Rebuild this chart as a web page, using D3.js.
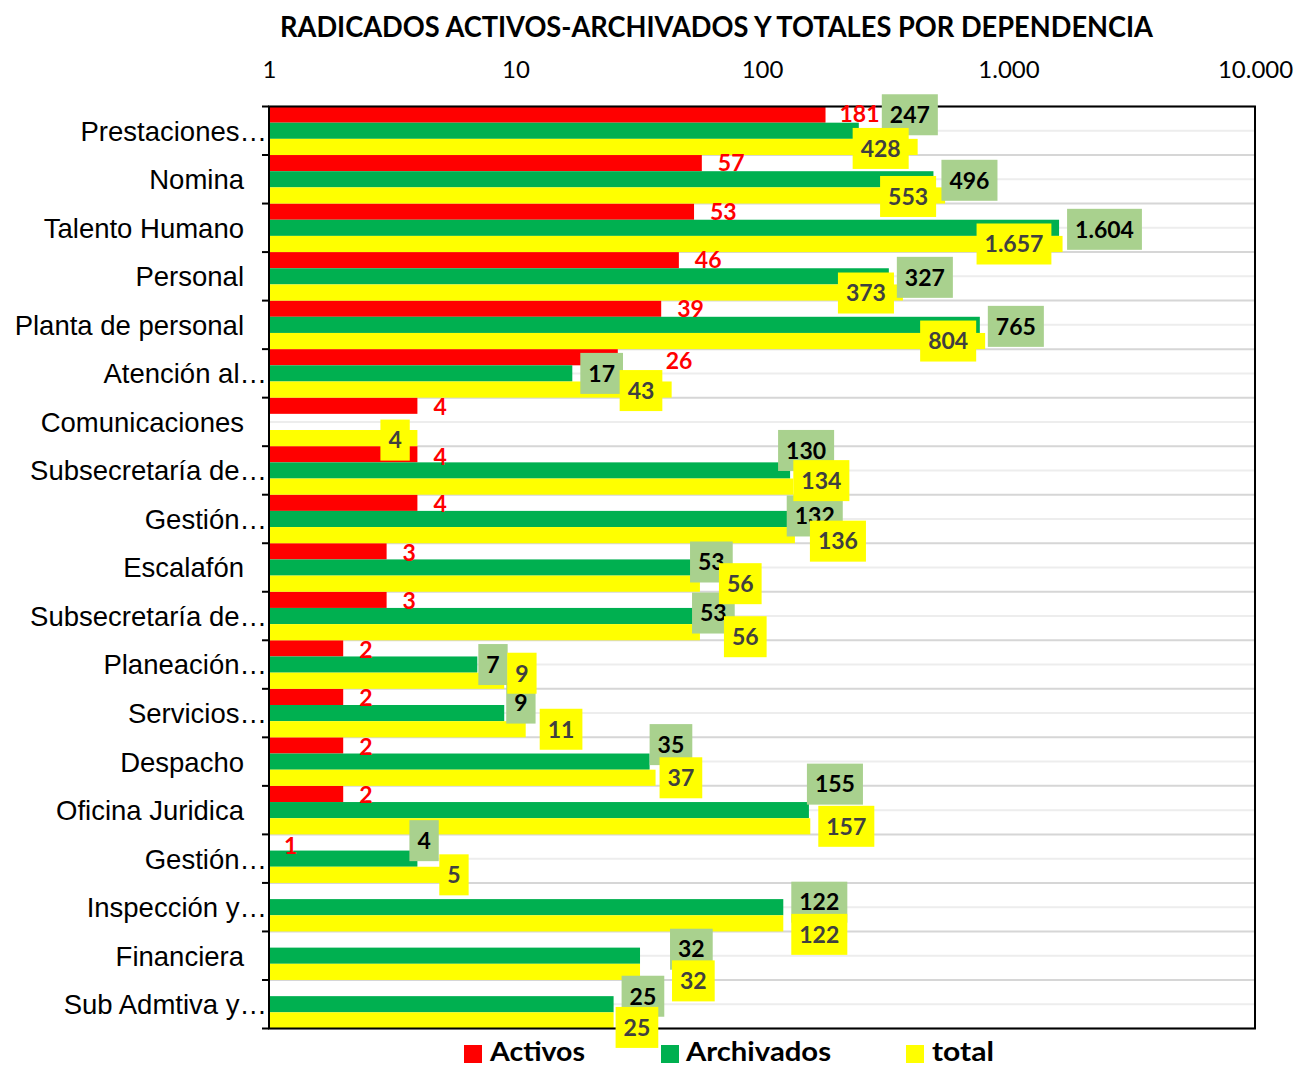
<!DOCTYPE html>
<html><head><meta charset="utf-8">
<script src="https://cdn.jsdelivr.net/npm/d3@7"></script>
<style>body{margin:0;background:#fff} svg{display:block}</style>
</head><body><svg id="c" width="1297" height="1067"></svg>
<script>
// ---- data ----
const categories = ["Prestaciones…", "Nomina", "Talento Humano", "Personal", "Planta de personal",
  "Atención al…", "Comunicaciones", "Subsecretaría de…", "Gestión…", "Escalafón",
  "Subsecretaría de…", "Planeación…", "Servicios…", "Despacho", "Oficina Juridica",
  "Gestión…", "Inspección y…", "Financiera", "Sub Admtiva y…"];
const activos    = [181, 57, 53, 46, 39, 26, 4, 4, 4, 3, 3, 2, 2, 2, 2, 1, null, null, null];
const archivados = [247, 496, 1604, 327, 765, 17, null, 130, 132, 53, 53, 7, 9, 35, 155, 4, 122, 32, 25];
const total      = [428, 553, 1657, 373, 804, 43, 4, 134, 136, 56, 56, 9, 11, 37, 157, 5, 122, 32, 25];
const seriesNames = ["Activos", "Archivados", "total"];
const tickValues = [1, 10, 100, 1000, 10000];
const chartTitle = "RADICADOS ACTIVOS-ARCHIVADOS Y TOTALES POR DEPENDENCIA";

// ---- label nudges (offset of label from bar end / bar centre, px) ----
const activosDx = [14,16,16,16,16,48,16,16,16,16,16,16,16,16,16,15,0,0,0];
const activosDy = [-1,0,0,0,0,4,1,2,1,1,1,1,1,1,1,3,0,0,0];
const archDx = [23,8,8,8,8,8,0,-12,-5,-4,-2,1,2,0,-2,-8,8,30,8];
const archDy = [-16,1,1.5,1,1.5,0,0,-20,-3,-5.5,-3,0,-10,-17,-26,-18,-5,-6.5,-8];
const totDx = [-65,-65,-86,-65,-65,-52,-37,0,15,19,24,3,14,4,8,-2,8,32,2];
const totDy = [1.5,1,0,0.5,0,1,2,-6,6,0,4.5,-7.5,0,0,0,0,11,9,7];

// ---- setup ----
const svg = d3.select("#c");
const x = d3.scaleLog().domain([1, 10000]).range([269, 1255]);
const y = d3.scaleBand().domain(d3.range(categories.length)).range([106.5, 1028.5]).padding(0);
const sub = d3.scaleBand().domain(seriesNames).range([0, y.bandwidth()]).padding(0);
const colors = {Activos: "#ff0000", Archivados: "#00b050", total: "#ffff00"};
const es = d3.formatLocale({decimal: ",", thousands: ".", grouping: [3], currency: ["$", ""]});
const fmt = es.format(",d");
const seriesData = {Activos: activos, Archivados: archivados, total: total};
const bw = y.bandwidth();
const x0 = x.range()[0], x1 = x.range()[1];
const yTop = y.range()[0], yBot = y.range()[1];

// gridlines
const grid = svg.append("g");
const boundaries = d3.range(categories.length + 1).map(i => i < categories.length ? y(i) : yBot);
grid.selectAll("line.mid").data(d3.range(categories.length)).join("line")
  .attr("x1", x0).attr("x2", x1)
  .attr("y1", i => y(i) + bw / 2).attr("y2", i => y(i) + bw / 2)
  .attr("stroke", "#ededed").attr("stroke-width", 2);
grid.selectAll("line.b").data(boundaries).join("line")
  .attr("x1", x0).attr("x2", x1).attr("y1", d => d).attr("y2", d => d)
  .attr("stroke", "#d6d6d6").attr("stroke-width", 2);

// bars
seriesNames.forEach(s => {
  svg.append("g").selectAll("rect")
    .data(seriesData[s].map((v, i) => ({v, i})).filter(d => d.v != null && d.v >= 1))
    .join("rect")
    .attr("x", x(1))
    .attr("y", d => y(d.i) + sub(s))
    .attr("width", d => x(d.v) - x(1))
    .attr("height", sub.bandwidth())
    .attr("fill", colors[s]);
});

// plot border
svg.append("rect").attr("x", x0).attr("y", yTop).attr("width", x1 - x0).attr("height", yBot - yTop)
  .attr("fill", "none").attr("stroke", "#000").attr("stroke-width", 2);

// category axis
const yAxis = svg.append("g").attr("transform", `translate(${x0},0)`)
  .call(d3.axisLeft(y).tickSize(0).tickFormat(i => categories[i]));
yAxis.select(".domain").remove();
yAxis.selectAll("text")
  .attr("x", i => categories[i].endsWith("…") ? -2 : -25)
  .attr("dy", "0.36em")
  .style("font-family", "'Liberation Sans', Arial, sans-serif")
  .style("font-size", "27.5px").attr("fill", "#000");
svg.append("g").selectAll("line").data(boundaries).join("line")
  .attr("x1", x0 - 7).attr("x2", x0).attr("y1", d => d).attr("y2", d => d)
  .attr("stroke", "#000").attr("stroke-width", 2);

// value axis (top)
const xAxis = svg.append("g").attr("transform", "translate(0,78)")
  .call(d3.axisTop(x).tickValues(tickValues).tickSize(0).tickPadding(0).tickFormat(fmt));
xAxis.select(".domain").remove();
xAxis.selectAll("text").attr("y", 0).attr("dy", "0")
  .style("font-family", "Lato, sans-serif").style("font-size", "24px").attr("fill", "#000");

// Activos labels
svg.append("g").selectAll("text")
  .data(activos.map((v, i) => ({v, i})).filter(d => d.v != null))
  .join("text")
  .attr("x", d => x(d.v) + activosDx[d.i])
  .attr("y", d => y(d.i) + sub("Activos") + sub.bandwidth() / 2 + activosDy[d.i])
  .attr("dy", "0.36em")
  .style("font-family", "Lato, sans-serif").style("font-weight", "700").style("font-size", "23px")
  .attr("fill", "#ff0000").text(d => fmt(d.v));

function boxLabels(values, series, dxArr, dyArr, fill, textColor) {
  const g = svg.append("g");
  values.forEach((v, i) => {
    if (v == null) return;
    const lg = g.append("g");
    const rect = lg.append("rect");
    const t = lg.append("text")
      .style("font-family", "Lato, sans-serif").style("font-weight", "700").style("font-size", "23px")
      .attr("fill", textColor).attr("text-anchor", "middle").attr("dy", "0.36em").text(fmt(v));
    const tw = t.node().getComputedTextLength();
    const w = tw + 16, h = 41;
    const left = x(v) + dxArr[i];
    const cy = y(i) + sub(series) + sub.bandwidth() / 2 + dyArr[i];
    rect.attr("x", left).attr("y", cy - h / 2).attr("width", w).attr("height", h).attr("fill", fill);
    t.attr("x", left + w / 2).attr("y", cy);
  });
}
boxLabels(archivados, "Archivados", archDx, archDy, "#a9d18e", "#000");
boxLabels(total, "total", totDx, totDy, "#ffff00", "#404040");

// title
svg.append("text").attr("x", 716.5).attr("y", 37).attr("text-anchor", "middle")
  .attr("textLength", 873).attr("lengthAdjust", "spacingAndGlyphs")
  .style("font-family", "Lato, sans-serif").style("font-weight", "700").style("font-size", "28px")
  .attr("fill", "#000").text(chartTitle);

// legend
const legendItems = [
  {name: "Activos", sx: 464, tx: 490, tw: 95},
  {name: "Archivados", sx: 661, tx: 686, tw: 145},
  {name: "total", sx: 906, tx: 932, tw: 62}
];
const lg = svg.append("g");
lg.selectAll("rect").data(legendItems).join("rect")
  .attr("x", d => d.sx).attr("y", 1045).attr("width", 18).attr("height", 18)
  .attr("fill", d => colors[d.name]);
lg.selectAll("text").data(legendItems).join("text")
  .attr("x", d => d.tx).attr("y", 1061)
  .attr("textLength", d => d.tw).attr("lengthAdjust", "spacingAndGlyphs")
  .style("font-family", "Lato, sans-serif").style("font-weight", "700").style("font-size", "26px")
  .attr("fill", "#000").text(d => d.name);
</script></body></html>
